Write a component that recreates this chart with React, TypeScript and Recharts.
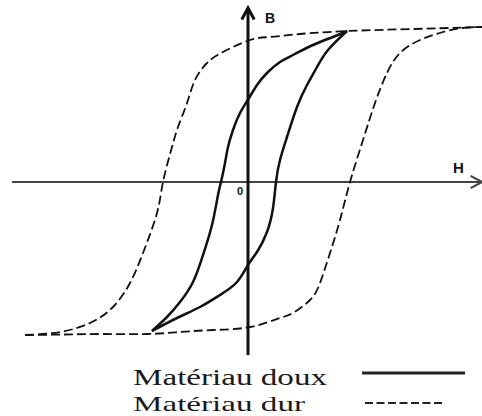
import React from "react";
import {
  LineChart,
  Line,
  XAxis,
  YAxis,
  ReferenceLine,
  ReferenceDot,
  Legend,
} from "recharts";

// ─── Values (H field, B induction, arbitrary units) ───
// hard material (dashed), descending branch
const hardDownH = [-22.3, -18.8, -15.8, -13.5, -11.8, -10.5, -9.1, -8.5, -7.6, -7.0, -6.1, -5.3, -4.1, -2.5, 0.2, 2.2, 5.2, 10.0, 16.5, 23.4];
const hardDownB = [-15.3, -15.0, -14.1, -12.5, -10.1, -7.1, -3.1, 0, 3.5, 5.5, 7.9, 10.2, 11.9, 13.0, 14.2, 14.5, 14.8, 15.1, 15.3, 15.5];
// hard material (dashed), ascending branch
const hardUpH = [-22.3, -18.5, -14.5, -10.1, -6.8, -3.5, 0.2, 3.2, 4.5, 6.2, 7.2, 8.2, 9.2, 10.2, 11.5, 12.7, 13.9, 15.2, 17.2, 19.5, 21.5, 23.4];
const hardUpB = [-15.3, -15.25, -15.2, -15.2, -15.0, -14.8, -14.5, -13.6, -13.1, -11.8, -10.1, -7.1, -3.8, 0, 4.2, 7.9, 10.9, 12.9, 14.2, 15.0, 15.4, 15.5];
// soft material (solid), descending branch
const softDownH = [-9.6, -8.1, -6.8, -5.5, -4.5, -3.6, -3.0, -2.7, -2.3, -2.0, -1.5, -0.8, 0.1, 0.9, 1.9, 3.2, 4.5, 6.5, 8.5, 9.9];
const softDownB = [-14.9, -13.5, -12.0, -10.0, -7.3, -4.3, -1.3, 0, 1.9, 3.5, 5.2, 6.9, 8.4, 9.7, 10.9, 12.0, 12.7, 13.7, 14.5, 15.1];
// soft material (solid), ascending branch
const softUpH = [-9.6, -7.1, -4.8, -2.8, -1.1, 0, 0.9, 1.9, 2.5, 2.8, 3.2, 3.9, 4.9, 5.9, 6.9, 8.0, 9.9];
const softUpB = [-14.9, -13.6, -12.5, -11.3, -10.0, -8.3, -7.0, -5.0, -2.6, 0, 2.2, 4.5, 7.5, 9.7, 11.5, 13.2, 15.1];

const H_DOMAIN = [-23.6, 23.4];
const B_DOMAIN = [-17.3, 17.4];

const SOFT_LABEL = "Matériau doux";
const HARD_LABEL = "Matériau dur";

const toPoints = (hs: number[], bs: number[]) => hs.map((h, i) => ({ h, b: bs[i] }));

const hardDown = toPoints(hardDownH, hardDownB);
const hardUp = toPoints(hardUpH, hardUpB);
const softDown = toPoints(softDownH, softDownB);
const softUp = toPoints(softUpH, softUpB);

const INK = "#111";
const AXIS_FONT = "'Liberation Sans', Arial, sans-serif";
const TEXT_FONT = "'Liberation Serif', 'Times New Roman', serif";

// axis line with an open chevron at its end
function AxisArrow(props: any) {
  const { x1, y1, x2, y2, stroke, strokeWidth } = props;
  const ang = Math.atan2(y2 - y1, x2 - x1);
  const len = 13;
  const spread = 0.5;
  const ax = x2 - len * Math.cos(ang - spread);
  const ay = y2 - len * Math.sin(ang - spread);
  const bx = x2 - len * Math.cos(ang + spread);
  const by = y2 - len * Math.sin(ang + spread);
  return (
    <g>
      <line x1={x1} y1={y1} x2={x2} y2={y2} stroke={stroke} strokeWidth={strokeWidth} />
      <polyline
        points={`${ax},${ay} ${x2},${y2} ${bx},${by}`}
        fill="none"
        stroke={stroke}
        strokeWidth={strokeWidth}
      />
    </g>
  );
}

function LegendBox() {
  return (
    <svg width={482} height={61} style={{ display: "block", overflow: "visible" }}>
      <text
        x={133}
        y={30}
        fontFamily={TEXT_FONT}
        fontSize={23}
        fill="#1a1a1a"
        textLength={194}
        lengthAdjust="spacingAndGlyphs"
      >
        {SOFT_LABEL}
      </text>
      <line x1={362} y1={18} x2={465} y2={18} stroke="#222" strokeWidth={3} />
      <text
        x={133}
        y={56}
        fontFamily={TEXT_FONT}
        fontSize={22}
        fill="#1a1a1a"
        textLength={172}
        lengthAdjust="spacingAndGlyphs"
      >
        {HARD_LABEL}
      </text>
      <line x1={365} y1={48} x2={442} y2={48} stroke="#222" strokeWidth={2} strokeDasharray="8 3.5" />
    </svg>
  );
}

export default function App() {
  return (
    <div style={{ position: "absolute", left: 0, top: 0, width: 482, height: 416, background: "#fff" }}>
      <LineChart width={482} height={416} margin={{ top: 8, right: 0, left: 12, bottom: 0 }}>
        <XAxis type="number" dataKey="h" domain={H_DOMAIN} hide />
        <YAxis type="number" dataKey="b" domain={B_DOMAIN} hide />

        <ReferenceLine
          segment={[{ x: H_DOMAIN[0], y: 0 }, { x: H_DOMAIN[1], y: 0 }]}
          stroke="#444"
          strokeWidth={2}
          shape={AxisArrow}
          label={(p: any) => (
            <text
              x={p.viewBox.x + p.viewBox.width - 29}
              y={p.viewBox.y - 9}
              fontFamily={AXIS_FONT}
              fontWeight="bold"
              fontSize={15}
              fill={INK}
            >
              H
            </text>
          )}
        />
        <ReferenceLine
          segment={[{ x: 0, y: B_DOMAIN[0] }, { x: 0, y: B_DOMAIN[1] }]}
          stroke={INK}
          strokeWidth={3}
          shape={AxisArrow}
          label={(p: any) => (
            <text
              x={p.viewBox.x + 17}
              y={p.viewBox.y + 15}
              fontFamily={AXIS_FONT}
              fontWeight="bold"
              fontSize={14}
              fill={INK}
            >
              B
            </text>
          )}
        />
        <ReferenceDot
          x={0}
          y={0}
          r={0}
          fill="none"
          stroke="none"
          label={(p: any) => (
            <text
              x={p.viewBox.x - 8}
              y={p.viewBox.y + 13}
              textAnchor="middle"
              fontFamily={AXIS_FONT}
              fontWeight="bold"
              fontSize={11}
              fill={INK}
            >
              0
            </text>
          )}
        />

        <Line
          data={hardDown}
          dataKey="b"
          name={HARD_LABEL}
          type="natural"
          stroke={INK}
          strokeWidth={1.8}
          strokeDasharray="9 4"
          dot={false}
          isAnimationActive={false}
        />
        <Line
          data={hardUp}
          dataKey="b"
          name={HARD_LABEL + " "}
          type="natural"
          stroke={INK}
          strokeWidth={1.8}
          strokeDasharray="9 4"
          dot={false}
          legendType="none"
          isAnimationActive={false}
        />
        <Line
          data={softDown}
          dataKey="b"
          name={SOFT_LABEL}
          type="natural"
          stroke={INK}
          strokeWidth={2.5}
          dot={false}
          isAnimationActive={false}
        />
        <Line
          data={softUp}
          dataKey="b"
          name={SOFT_LABEL + " "}
          type="natural"
          stroke={INK}
          strokeWidth={2.5}
          dot={false}
          legendType="none"
          isAnimationActive={false}
        />

        <Legend
          verticalAlign="bottom"
          height={61}
          content={() => <LegendBox />}
          wrapperStyle={{ left: 0, width: 482, height: 61 }}
        />
      </LineChart>
    </div>
  );
}
